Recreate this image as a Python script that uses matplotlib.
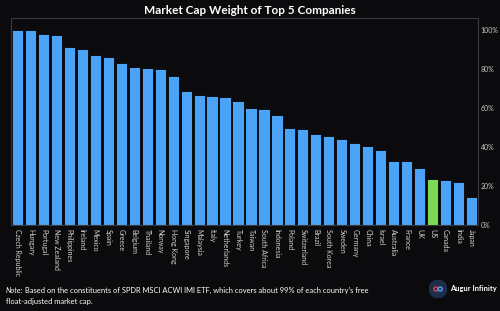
import matplotlib
matplotlib.use("Agg")
import matplotlib.pyplot as plt
from matplotlib.patches import Circle

countries = ["Czech Republic", "Hungary", "Portugal", "New Zealand", "Philippines", "Ireland",
             "Mexico", "Spain", "Greece", "Belgium", "Thailand", "Norway", "Hong Kong",
             "Singapore", "Malaysia", "Italy", "Netherlands", "Turkey", "Taiwan", "South Africa",
             "Indonesia", "Poland", "Switzerland", "Brazil", "South Korea", "Sweden", "Germany",
             "China", "Israel", "Australia", "France", "UK", "US", "Canada", "India", "Japan"]
weights = [100.0, 100.0, 97.6, 97.1, 91.1, 90.1, 87.3, 85.8, 83.2, 80.7, 80.2, 79.8, 76.2,
           68.6, 66.7, 66.2, 65.6, 63.6, 59.8, 59.5, 56.3, 49.7, 49.2, 46.8, 45.5, 44.1, 41.9,
           40.4, 38.3, 33.0, 32.6, 29.1, 23.6, 22.9, 22.1, 14.4]
yticks = [0, 20, 40, 60, 80, 100]
highlight = "US"

bg = "#0b0b0d"
blue = "#4aa3f7"
green = "#7dd855"

plt.rcParams['font.family'] = ['Lato', 'DejaVu Sans']
fig = plt.figure(figsize=(5.0, 3.11), dpi=100, facecolor=bg)
ax = fig.add_axes([0.022, 0.2765, 0.934, 0.6655], facecolor=bg)

colors = [green if c == highlight else blue for c in countries]
ax.bar(range(len(countries)), weights, width=0.86, color=colors, edgecolor="#050505", linewidth=0.6)
ax.set_xlim(-0.5, len(countries) - 0.5)
ax.set_ylim(0, 106)

ax.yaxis.tick_right()
ax.set_yticks(yticks)
ax.set_yticklabels([f"{t}%" for t in yticks])
ax.tick_params(axis="y", length=0, colors="#c8c8c8", labelsize=5, pad=2)
ax.set_xticks(range(len(countries)))
ax.set_xticklabels(countries, rotation=270, va="top", ha="center")
ax.tick_params(axis="x", length=0, colors="#d0d0d0", labelsize=5, pad=3)
for s in ax.spines.values():
    s.set_color("#3a3a3e")
    s.set_linewidth(0.8)

fig.text(0.5, 0.965, "Market Cap Weight of Top 5 Companies", ha="center", va="center",
         color="white", fontsize=8.5, fontweight="bold")

t_note = fig.text(0.012, 0.066, "Note:", ha="left", va="center", color="white", fontsize=5.4, style="italic")
fig.canvas.draw()
bb = t_note.get_window_extent()
fig.text((bb.x1 + 1.5) / fig.bbox.width, 0.066,
         "Based on the constituents of SPDR MSCI ACWI IMI ETF, which covers about 99% of each country's free",
         ha="left", va="center", color="white", fontsize=5.4)
fig.text(0.012, 0.030, "float-adjusted market cap.", ha="left", va="center", color="white", fontsize=5.4)

# logo
lx, ly = 438 / 500, 1 - 289 / 311
logo_ax = fig.add_axes([lx - 0.018, ly - 0.029, 0.036, 0.058])
logo_ax.set_xlim(-1, 1); logo_ax.set_ylim(-1, 1); logo_ax.set_aspect("equal"); logo_ax.axis("off")
logo_ax.add_patch(Circle((0, 0), 0.98, color="#1c2e4a"))
logo_ax.add_patch(Circle((-0.24, 0), 0.22, fill=False, ec="#e0404a", lw=1.0))
logo_ax.add_patch(Circle((0.24, 0), 0.22, fill=False, ec="#5aa0f0", lw=1.0))
fig.text(0.994, 0.071, "Augur Infinity", ha="right", va="center", color="white", fontsize=5.4, fontweight="bold")

fig.savefig("out.png", dpi=100, facecolor=bg)
